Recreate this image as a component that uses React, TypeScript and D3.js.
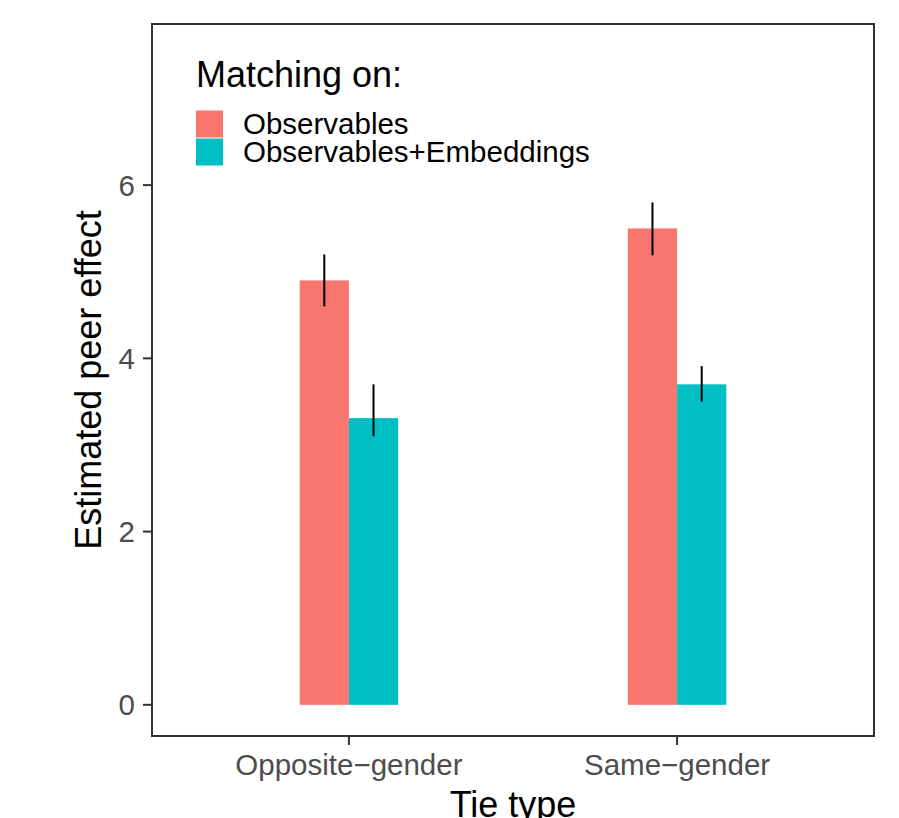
import React, { useRef, useEffect } from 'react';
import * as d3 from 'd3';

// tie types on the x axis
const categories = ['Opposite\u2212gender', 'Same\u2212gender'];
// matching strategies (fill groups)
const groups = ['Observables', 'Observables+Embeddings'];

const observablesEst = [4.9, 5.5];
const observablesLo = [4.6, 5.19];
const observablesHi = [5.2, 5.8];

const embeddingsEst = [3.31, 3.7];
const embeddingsLo = [3.1, 3.5];
const embeddingsHi = [3.7, 3.91];

const yTicks = [0, 2, 4, 6];
const colors = ['#F8766D', '#00BFC4'];

const App = () => {
  const svgRef = useRef<SVGSVGElement | null>(null);

  useEffect(() => {
    const width = 899;
    const height = 818;
    const panel = { left: 152, right: 874, top: 24, bottom: 736 };
    const font = '"Liberation Sans", Arial, sans-serif';

    const svg = d3.select(svgRef.current)
      .attr('width', width)
      .attr('height', height);

    const rows = categories.flatMap((cat, i) => [
      { cat, group: groups[0], est: observablesEst[i], lo: observablesLo[i], hi: observablesHi[i] },
      { cat, group: groups[1], est: embeddingsEst[i], lo: embeddingsLo[i], hi: embeddingsHi[i] },
    ]);

    const x = d3.scalePoint()
      .domain(categories)
      .range([panel.left, panel.right])
      .padding(0.6);

    const step = x.step();
    const xSub = d3.scaleBand()
      .domain(groups)
      .range([-0.15 * step, 0.15 * step]);

    const y = d3.scaleLinear()
      .domain([-0.36, 7.86])
      .range([panel.bottom, panel.top]);

    const color = d3.scaleOrdinal<string, string>().domain(groups).range(colors);

    // bars
    svg.append('g')
      .selectAll('rect')
      .data(rows)
      .enter()
      .append('rect')
      .attr('x', d => (x(d.cat) as number) + (xSub(d.group) as number))
      .attr('width', xSub.bandwidth())
      .attr('y', d => y(d.est))
      .attr('height', d => y(0) - y(d.est))
      .attr('fill', d => color(d.group));

    // error bars
    svg.append('g')
      .selectAll('line')
      .data(rows)
      .enter()
      .append('line')
      .attr('x1', d => (x(d.cat) as number) + (xSub(d.group) as number) + xSub.bandwidth() / 2)
      .attr('x2', d => (x(d.cat) as number) + (xSub(d.group) as number) + xSub.bandwidth() / 2)
      .attr('y1', d => y(d.lo))
      .attr('y2', d => y(d.hi))
      .attr('stroke', '#000')
      .attr('stroke-width', 2);

    // panel border
    svg.append('rect')
      .attr('x', panel.left)
      .attr('y', panel.top)
      .attr('width', panel.right - panel.left)
      .attr('height', panel.bottom - panel.top)
      .attr('fill', 'none')
      .attr('stroke', '#333333')
      .attr('stroke-width', 2);

    // y axis
    const yAxis = svg.append('g');
    yAxis.selectAll('line')
      .data(yTicks)
      .enter()
      .append('line')
      .attr('x1', panel.left - 9)
      .attr('x2', panel.left)
      .attr('y1', d => y(d))
      .attr('y2', d => y(d))
      .attr('stroke', '#333333')
      .attr('stroke-width', 2);
    yAxis.selectAll('text')
      .data(yTicks)
      .enter()
      .append('text')
      .attr('x', panel.left - 17)
      .attr('y', d => y(d))
      .attr('dy', '0.36em')
      .attr('text-anchor', 'end')
      .style('font-size', '29.5px')
      .style('font-family', font)
      .attr('fill', '#4D4D4D')
      .text(d => d);

    // x axis
    const xAxis = svg.append('g');
    xAxis.selectAll('line')
      .data(categories)
      .enter()
      .append('line')
      .attr('x1', d => x(d) as number)
      .attr('x2', d => x(d) as number)
      .attr('y1', panel.bottom)
      .attr('y2', panel.bottom + 9)
      .attr('stroke', '#333333')
      .attr('stroke-width', 2);
    xAxis.selectAll('text')
      .data(categories)
      .enter()
      .append('text')
      .attr('x', d => x(d) as number)
      .attr('y', 775)
      .attr('text-anchor', 'middle')
      .style('font-size', '29.5px')
      .style('font-family', font)
      .attr('fill', '#4D4D4D')
      .text(d => d);

    // axis titles
    svg.append('text')
      .attr('x', (panel.left + panel.right) / 2)
      .attr('y', 817)
      .attr('text-anchor', 'middle')
      .style('font-size', '36px')
      .style('font-family', font)
      .attr('fill', '#000')
      .text('Tie type');

    svg.append('text')
      .attr('transform', `translate(101, ${(panel.top + panel.bottom) / 2}) rotate(-90)`)
      .attr('text-anchor', 'middle')
      .style('font-size', '36px')
      .style('font-family', font)
      .attr('fill', '#000')
      .text('Estimated peer effect');

    // legend inside the panel
    const legend = svg.append('g').attr('transform', 'translate(196, 0)');
    legend.append('text')
      .attr('x', 0)
      .attr('y', 87)
      .style('font-size', '36px')
      .style('font-family', font)
      .attr('fill', '#000')
      .text('Matching on:');

    const items = legend.selectAll('.legend')
      .data(groups)
      .enter()
      .append('g')
      .attr('class', 'legend')
      .attr('transform', (d, i) => `translate(0, ${110.5 + i * 28})`);
    items.append('rect')
      .attr('width', 27)
      .attr('height', 27)
      .attr('fill', d => color(d));
    items.append('text')
      .attr('x', 47)
      .attr('y', 23.5)
      .style('font-size', '29.5px')
      .style('font-family', font)
      .attr('fill', '#000')
      .text(d => d);

    return () => {
      d3.select(svgRef.current).selectAll('*').remove();
    };
  }, []);

  return (
    <div>
      <svg ref={svgRef} style={{ position: 'absolute', left: 0, top: 0, background: '#fff' }}></svg>
    </div>
  );
};

export default App;
